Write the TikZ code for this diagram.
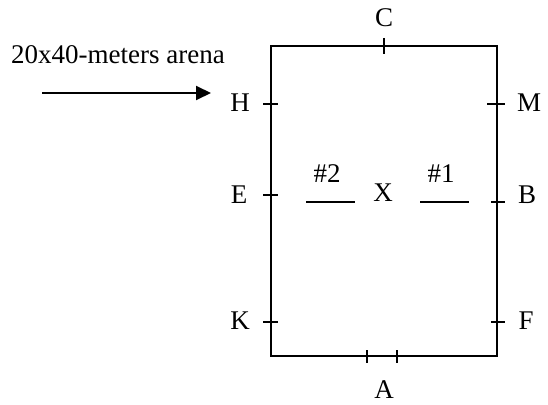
\documentclass[tikz,border=0pt]{standalone}
\usepackage{fontspec}
\setmainfont{Liberation Serif}
\usetikzlibrary{arrows.meta}
\begin{document}
\begin{tikzpicture}[x=1pt,y=-1pt,
  lbl/.style={inner sep=0pt,font=\fontsize{27}{32}\selectfont},
  edge/.style={line width=2pt,line cap=rect},
  tick/.style={line width=2pt}]
\useasboundingbox (0,0) rectangle (548,404);
% arena
\coordinate (tl) at (271,46);
\coordinate (br) at (497,356);
\draw[edge] (tl) rectangle (br);
% ticks
\draw[tick] (384,38) -- (384,54);
\draw[tick] (263,104) -- (278,104);
\draw[tick] (487,104) -- (505,104);
\draw[tick] (263,195) -- (278,195);
\draw[tick] (491,202) -- (505,202);
\draw[tick] (263,322) -- (278,322);
\draw[tick] (491,322) -- (505,322);
\draw[tick] (367,350) -- (367,363);
\draw[tick] (397,350) -- (397,363);
% markers
\draw[tick] (306,202) -- (355,202);
\draw[tick] (420,202) -- (469,202);
% labels
\node[lbl] (C) at (384,18) {C};
\node[lbl] (H) at (240,103) {H};
\node[lbl] (M) at (529,103) {M};
\node[lbl] (E) at (239,195) {E};
\node[lbl] (B) at (527,195) {B};
\node[lbl] (K) at (240,321) {K};
\node[lbl] (F) at (526,321) {F};
\node[lbl] (A) at (384,390) {A};
\node[lbl] (X) at (383,193) {X};
\node[lbl] (n2) at (327,174) {\#2};
\node[lbl] (n1) at (441,174) {\#1};
\node[lbl] (title) at (118,55) {20x40-meters arena};
% arrow
\coordinate (as) at (42,93);
\coordinate (ae) at (211,93);
\draw[line width=2pt,-{Triangle[length=15pt,width=14pt]}] (as) -- (ae);
\end{tikzpicture}
\end{document}
